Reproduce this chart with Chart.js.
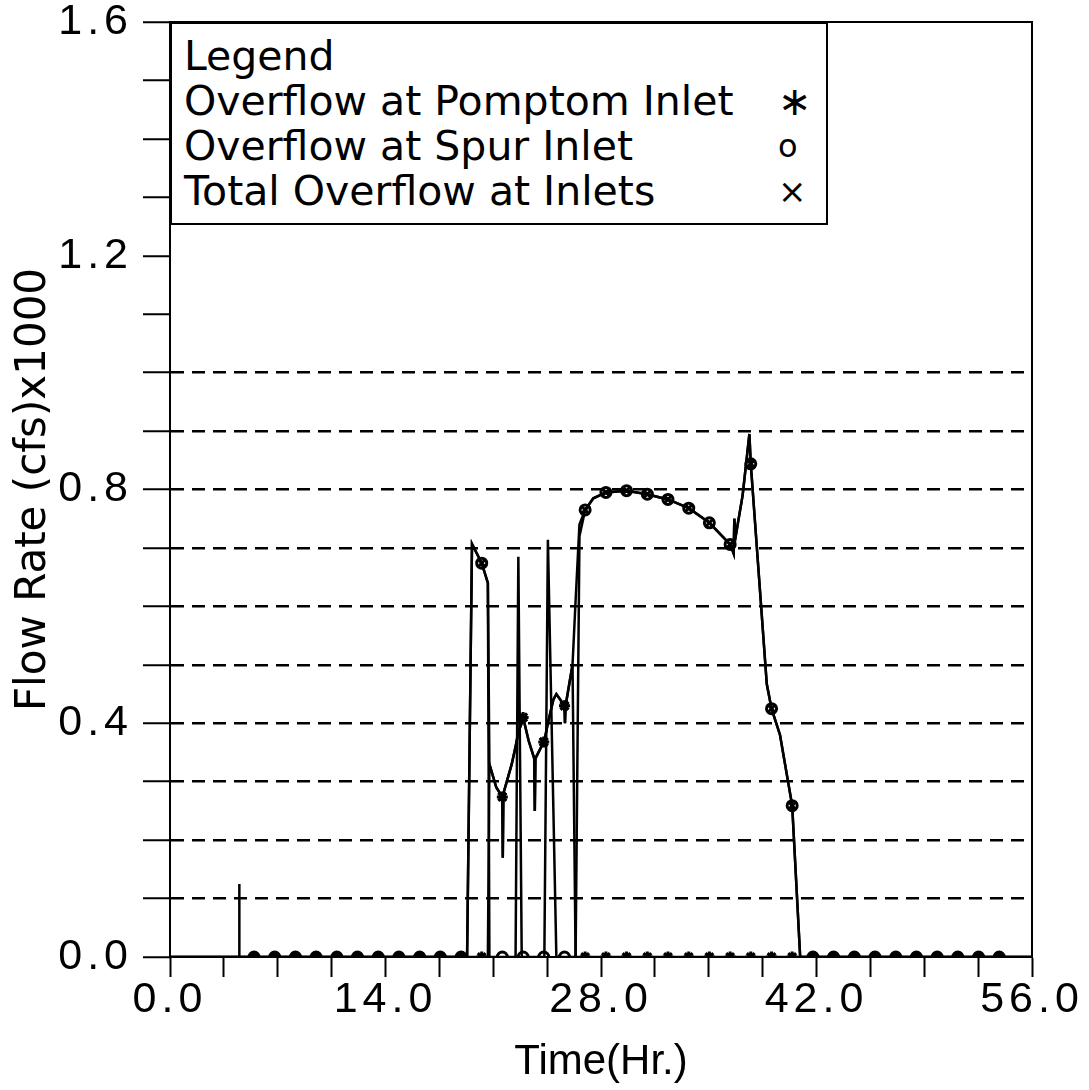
<!DOCTYPE html>
<html>
<head>
<meta charset="utf-8">
<script src="https://cdn.jsdelivr.net/npm/chart.js@4"></script>
<style>
  body { margin: 0; background: #fff; }
  #wrap { position: relative; width: 1089px; height: 1090px; }
  #legend {
    position: absolute; left: 170px; top: 22px; width: 658px; height: 203px;
    box-sizing: border-box; border: 2px solid #000; background: #fff;
    font-family: "DejaVu Sans", sans-serif; font-size: 41px; color: #000;
    padding: 10px 0 0 12px;
  }
  #legend .row { position: relative; height: 45px; line-height: 45px; white-space: nowrap; }
  #legend .sym { position: absolute; left: 594px; top: 0; font-size: 40px; }
</style>
</head>
<body>
<div id="wrap">
  <canvas id="flowChart"></canvas>
  <div id="legend">
    <div class="row">Legend</div>
    <div class="row">Overflow at Pomptom Inlet<span class="sym">∗</span></div>
    <div class="row">Overflow at Spur Inlet<span class="sym" style="font-size:32px">o</span></div>
    <div class="row">Total Overflow at Inlets<span class="sym" style="font-size:34px">×</span></div>
  </div>
</div>
<script>
// time axis (hours) shared by all three series
const hours = [0, 4.49, 4.5, 4.51, 5.46, 6.80, 8.15, 9.49, 10.84, 12.18, 13.53, 14.87, 16.22, 17.56, 18.91,
  19.3, 19.62, 20.25, 20.65, 20.75, 21.2, 21.59, 21.62, 21.66, 22.2, 22.45, 22.63, 22.85, 22.94, 23.3,
  23.66, 23.7, 23.74, 24.28, 24.32, 24.55, 24.9, 25.1, 25.63, 25.66, 25.7, 26.15, 26.35, 26.6, 26.97,
  27.5, 28.32, 29.66, 31.01, 32.35, 33.70, 35.04, 36.39, 36.62, 36.66, 36.75, 37.2, 37.64, 37.73, 38.77,
  39.08, 39.63, 40.42, 40.94, 41.77, 43.11, 44.46, 45.80, 47.15, 48.49, 49.84, 51.18, 52.53, 53.87, 56];

// flow rates (cfs x1000)
const pomptom = [0, 0, 0, 0, 0, 0, 0, 0, 0, 0, 0, 0, 0, 0, 0,
  0, 0, 0, 0, 0.33, 0.29, 0.274, 0.17, 0.28, 0.33, 0.36, 0.385, 0.40, 0.41, 0.37,
  0.34, 0.25, 0.34, 0.368, 0.37, 0.40, 0.44, 0.45, 0.43, 0.40, 0.43, 0.50, 0, 0, 0,
  0, 0, 0, 0, 0, 0, 0, 0, 0, 0, 0, 0, 0, 0, 0,
  0, 0, 0, 0, 0, 0, 0, 0, 0, 0, 0, 0, 0, 0, 0];

const spur = [0, 0, 0, 0, 0, 0, 0, 0, 0, 0, 0, 0, 0, 0, 0,
  0, 0.707, 0.674, 0.64, 0, 0, 0, 0, 0, 0, 0, 0.685, 0, 0, 0,
  0, 0, 0, 0, 0, 0.714, 0.26, 0, 0, 0, 0, 0, 0, 0.72, 0.765,
  0.785, 0.795, 0.798, 0.792, 0.783, 0.768, 0.743, 0.706, 0.69, 0.75, 0.72, 0.79, 0.895, 0.844, 0.467,
  0.425, 0.38, 0.259, 0, 0, 0, 0, 0, 0, 0, 0, 0, 0, 0, 0];

const total = [0, 0, 0.125, 0, 0, 0, 0, 0, 0, 0, 0, 0, 0, 0, 0,
  0, 0.707, 0.674, 0.64, 0.33, 0.29, 0.274, 0.17, 0.28, 0.33, 0.36, 0.385, 0.40, 0.41, 0.37,
  0.34, 0.25, 0.34, 0.368, 0.37, 0.40, 0.44, 0.45, 0.43, 0.40, 0.43, 0.50, 0.61, 0.74, 0.765,
  0.785, 0.795, 0.798, 0.792, 0.783, 0.768, 0.743, 0.706, 0.69, 0.75, 0.72, 0.79, 0.895, 0.844, 0.467,
  0.425, 0.38, 0.259, 0, 0, 0, 0, 0, 0, 0, 0, 0, 0, 0, 0];

// hours where the plotter put a symbol on each curve
const markerHours = [5.46, 6.80, 8.15, 9.49, 10.84, 12.18, 13.53, 14.87, 16.22, 17.56, 18.91, 20.25,
  21.59, 22.94, 24.28, 25.63, 26.97, 28.32, 29.66, 31.01, 32.35, 33.70, 35.04, 36.39, 37.73, 39.08,
  40.42, 41.77, 43.11, 44.46, 45.80, 47.15, 48.49, 49.84, 51.18, 52.53, 53.87];

const xTicksLabelled = [0, 14, 28, 42, 56];
const yTicksLabelled = [0, 0.4, 0.8, 1.2, 1.6];

function makeSeries(label, values, style, radius) {
  return {
    label: label,
    data: hours.map((h, i) => ({ x: h, y: values[i] })),
    borderColor: '#000',
    borderWidth: 2.5,
    tension: 0,
    pointStyle: style,
    pointRadius: hours.map(h => markerHours.includes(h) ? radius : 0),
    pointBorderColor: '#000',
    pointBackgroundColor: 'rgba(0,0,0,0)',
    pointBorderWidth: 3
  };
}

// frame round the plot area
const frame = {
  id: 'frame',
  afterDraw(chart) {
    const { ctx, chartArea: a } = chart;
    ctx.save();
    ctx.letterSpacing = '0px';
    ctx.strokeStyle = '#000';
    ctx.lineWidth = 2;
    ctx.strokeRect(a.left, a.top, a.right - a.left, a.bottom - a.top);
    ctx.restore();
  }
};

// plotter-style spacing for the tick numbers only (labels drawn after datasets)
const spacedTicks = {
  id: 'spacedTicks',
  afterDatasetsDraw(chart) { chart.ctx.letterSpacing = '5px'; },
  afterDraw(chart) { chart.ctx.letterSpacing = '0px'; }
};

new Chart(document.getElementById('flowChart'), {
  type: 'line',
  data: {
    datasets: [
      makeSeries('Overflow at Pomptom Inlet', pomptom, 'star', 5.5),
      makeSeries('Overflow at Spur Inlet', spur, 'circle', 5),
      makeSeries('Total Overflow at Inlets', total, 'crossRot', 5.5)
    ]
  },
  options: {
    responsive: true,
    maintainAspectRatio: false,
    animation: false,
    layout: { padding: { top: 22, right: 57, left: 0, bottom: 0 } },
    plugins: { legend: { display: false }, tooltip: { enabled: false } },
    scales: {
      x: {
        type: 'linear',
        min: 0,
        max: 56,
        afterFit: s => { s.height = 133; },
        border: { color: '#000', width: 2 },
        grid: { drawOnChartArea: false, tickLength: 20, tickWidth: 2, tickColor: '#000', color: '#000' },
        ticks: {
          stepSize: 3.5,
          autoSkip: false,
          maxRotation: 0,
          padding: 2,
          z: 1,
          color: '#000',
          font: { family: 'Liberation Sans', size: 43, lineHeight: 1 },
          callback: v => xTicksLabelled.includes(v) ? v.toFixed(1) : ''
        },
        title: {
          display: true,
          text: 'Time(Hr.)',
          color: '#000',
          padding: { top: 0, bottom: 2 },
          font: { family: 'Liberation Sans', size: 42, lineHeight: 1.2 }
        }
      },
      y: {
        min: 0,
        max: 1.6,
        afterFit: s => { s.width = 170; },
        border: { color: '#000', width: 2, dash: [13, 8] },
        grid: {
          color: c => (c.tick && c.tick.value > 0.05 && c.tick.value < 1.05) ? '#000' : 'rgba(0,0,0,0)',
          lineWidth: 2.5,
          tickLength: 27,
          tickWidth: 2,
          tickColor: '#000',
          tickBorderDash: []
        },
        ticks: {
          stepSize: 0.1,
          autoSkip: false,
          padding: 10,
          z: 1,
          color: '#000',
          font: { family: 'Liberation Sans', size: 43, lineHeight: 0.4 },
          callback: v => yTicksLabelled.some(t => Math.abs(t - v) < 1e-6) ? v.toFixed(1) : ''
        },
        title: {
          display: true,
          text: 'Flow Rate (cfs)x1000',
          color: '#000',
          padding: { top: 9, bottom: 0 },
          font: { family: 'DejaVu Sans', size: 42, lineHeight: 1.2 }
        }
      }
    }
  },
  plugins: [frame, spacedTicks]
});
</script>
</body>
</html>
